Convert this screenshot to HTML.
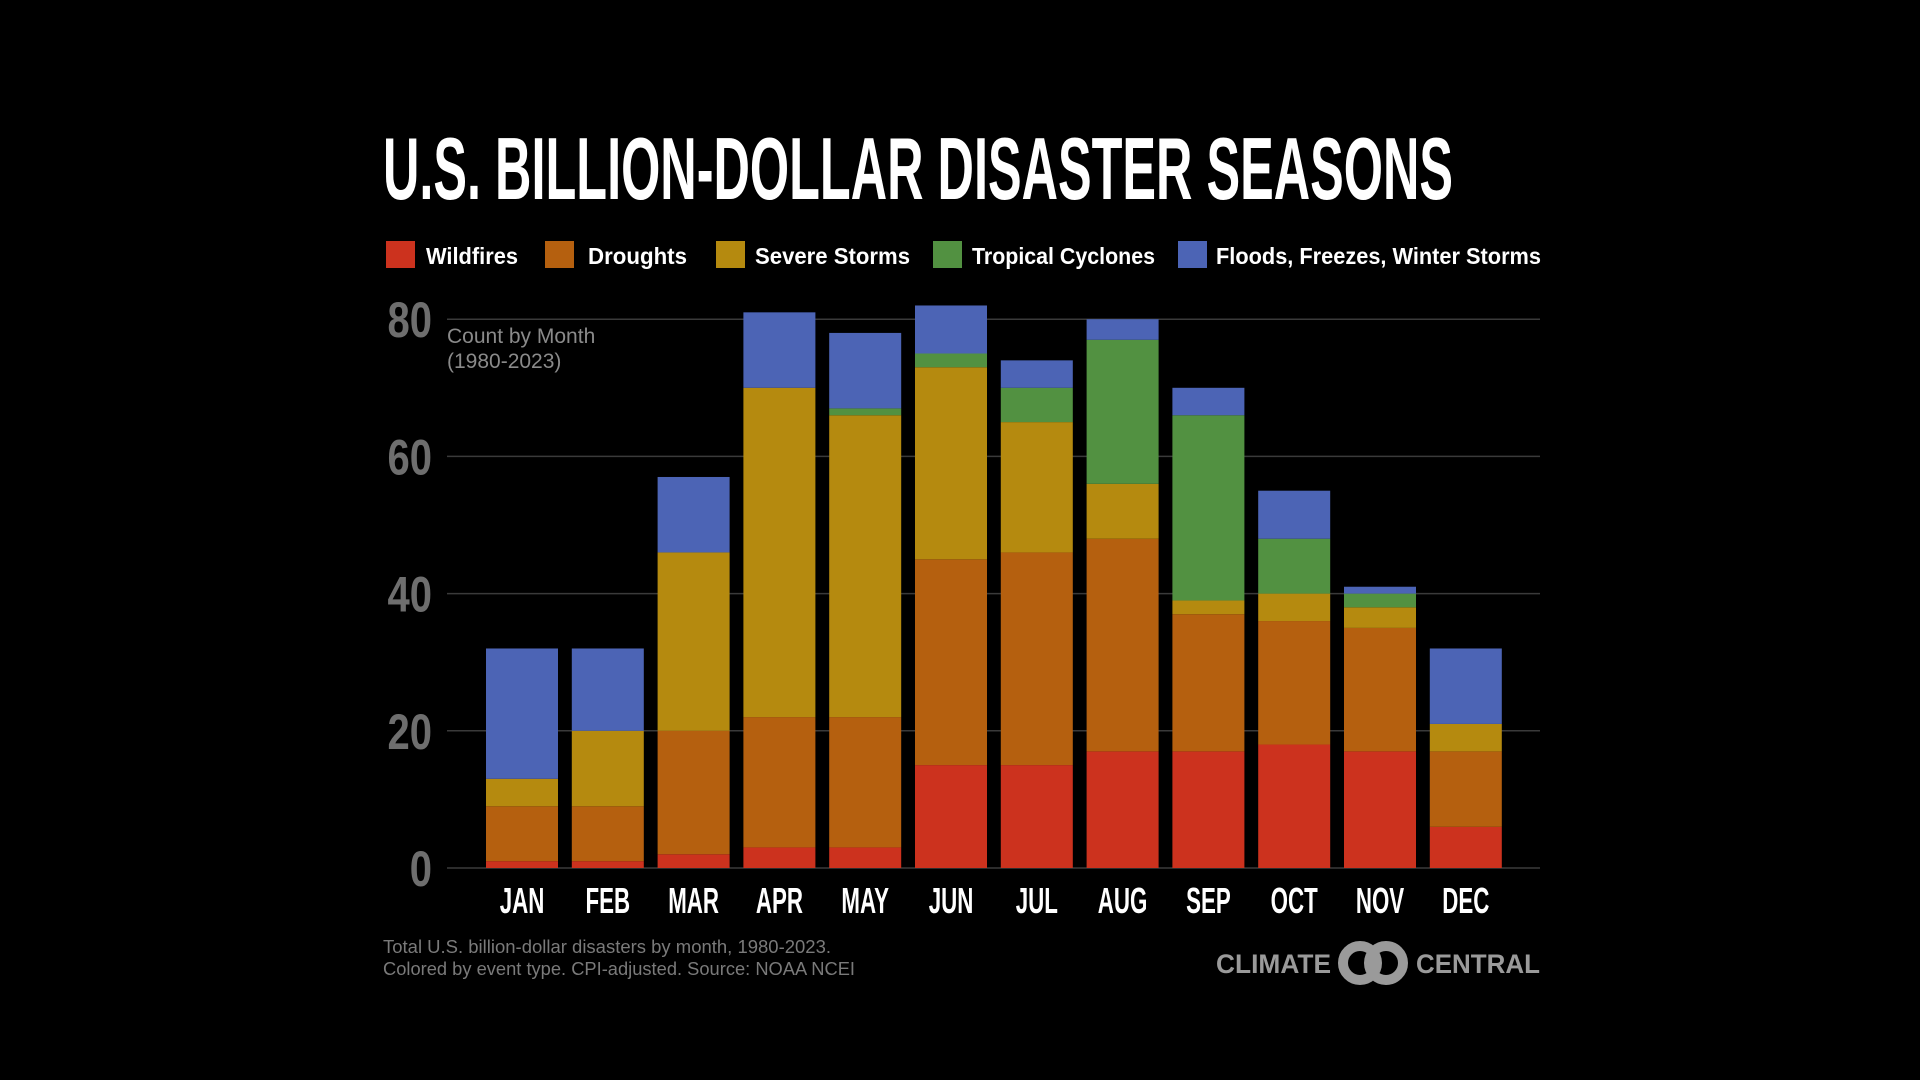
<!DOCTYPE html>
<html><head><meta charset="utf-8"><style>
html,body{margin:0;padding:0;background:#000;width:1920px;height:1080px;overflow:hidden}
svg{display:block}
.cond{font-family:"Liberation Sans Narrow","Liberation Sans",sans-serif;font-weight:bold}
.sans{font-family:"Liberation Sans",sans-serif}
</style></head><body>
<svg id="chart" width="1920" height="1080" viewBox="0 0 1920 1080">
<rect width="1920" height="1080" fill="#000"/>
<text x="383" y="199" class="cond" font-size="88" fill="#fff" textLength="1070" lengthAdjust="spacingAndGlyphs">U.S. BILLION-DOLLAR DISASTER SEASONS</text>
<g id="legend"></g>
<g id="grid"></g>
<g id="yaxis"></g>
<g id="bars"></g>
<g id="xaxis"></g>
<text x="447" y="343" class="sans" font-size="21" fill="#8a8a8a">Count by Month</text>
<text x="447" y="368" class="sans" font-size="21" fill="#8a8a8a">(1980-2023)</text>
<text x="383" y="953" class="sans" font-size="18" fill="#7a7a7a" textLength="448" lengthAdjust="spacingAndGlyphs">Total U.S. billion-dollar disasters by month, 1980-2023.</text>
<text x="383" y="975" class="sans" font-size="18" fill="#7a7a7a" textLength="472" lengthAdjust="spacingAndGlyphs">Colored by event type. CPI-adjusted. Source: NOAA NCEI</text>
<g>
<text x="1216" y="973" class="sans" font-weight="bold" font-size="27" fill="#9a9a9a" textLength="115" lengthAdjust="spacingAndGlyphs">CLIMATE</text>
<circle cx="1360" cy="963" r="17" fill="none" stroke="#9a9a9a" stroke-width="10"/>
<circle cx="1386" cy="963" r="17" fill="none" stroke="#9a9a9a" stroke-width="10"/>
<text x="1416" y="973" class="sans" font-weight="bold" font-size="27" fill="#9a9a9a" textLength="124" lengthAdjust="spacingAndGlyphs">CENTRAL</text>
</g>
</svg>
<script>
const months=["JAN","FEB","MAR","APR","MAY","JUN","JUL","AUG","SEP","OCT","NOV","DEC"];
const wildfires=[1,1,2,3,3,15,15,17,17,18,17,6];
const droughts=[8,8,18,19,19,30,31,31,20,18,18,11];
const severeStorms=[4,11,26,48,44,28,19,8,2,4,3,4];
const tropicalCyclones=[0,0,0,0,1,2,5,21,27,8,2,0];
const floodsFreezes=[19,12,11,11,11,7,4,3,4,7,1,11];
const yTicks=[0,20,40,60,80];
const seriesNames=["Wildfires","Droughts","Severe Storms","Tropical Cyclones","Floods, Freezes, Winter Storms"];
const seriesColors=["#cc321e","#b5600f","#b58a0f","#529141","#4c64b5"];
const series=[wildfires,droughts,severeStorms,tropicalCyclones,floodsFreezes];
const NS="http://www.w3.org/2000/svg";
const y0=868,pxPer=6.86,xLeft=447,xRight=1540,x0=486,step=85.8,bw=72;
const yScale=v=>y0-v*pxPer;
const xScale=i=>x0+i*step;
function mk(tag,attrs,parent){const e=document.createElementNS(NS,tag);for(const k in attrs)e.setAttribute(k,attrs[k]);parent.appendChild(e);return e;}
const grid=document.getElementById('grid'),yaxis=document.getElementById('yaxis');
yTicks.forEach(t=>{
  const l=mk('line',{x1:xLeft,x2:xRight,y1:yScale(t),y2:yScale(t),stroke:'#3a3a3a','stroke-width':1.5},grid);
  
  
  const tx=mk('text',{x:0,y:0,'text-anchor':'end','class':'cond','font-size':50,fill:'#6e6e6e',transform:'translate(432,'+(yScale(t)+18)+') scale(0.8,1)'},yaxis);
  tx.textContent=t;
  
  
});
const bars=document.getElementById('bars'),xaxis=document.getElementById('xaxis');
months.forEach((m,i)=>{
  let cum=0;
  series.forEach((s,k)=>{
    const v=s[i];if(!v){return;}
    const r=mk('rect',{x:xScale(i),y:yScale(cum+v),width:bw,height:v*pxPer,fill:seriesColors[k]},bars);
    
    
    cum+=v;
  });
  const tx=mk('text',{x:0,y:0,'text-anchor':'middle','class':'cond','font-size':36,fill:'#fff',transform:'translate('+(xScale(i)+bw/2)+',913) scale(0.62,1)'},xaxis);
  tx.textContent=m;
  
  
});
const legend=document.getElementById('legend');
const legX=[386,545,716,933,1178],legTX=[426,588,755,972,1216],legTW=[92,99,155,183,325];
seriesNames.forEach((n,k)=>{
  const g=mk('g',{},legend);
  
  
  mk('rect',{x:legX[k],y:241,width:29,height:27,fill:seriesColors[k]},g);
  const t=mk('text',{x:legTX[k],y:264,'class':'sans','font-size':23,'font-weight':'bold',fill:'#fff',textLength:legTW[k],lengthAdjust:'spacingAndGlyphs'},g);
  t.textContent=n;
});
</script>
</body></html>
